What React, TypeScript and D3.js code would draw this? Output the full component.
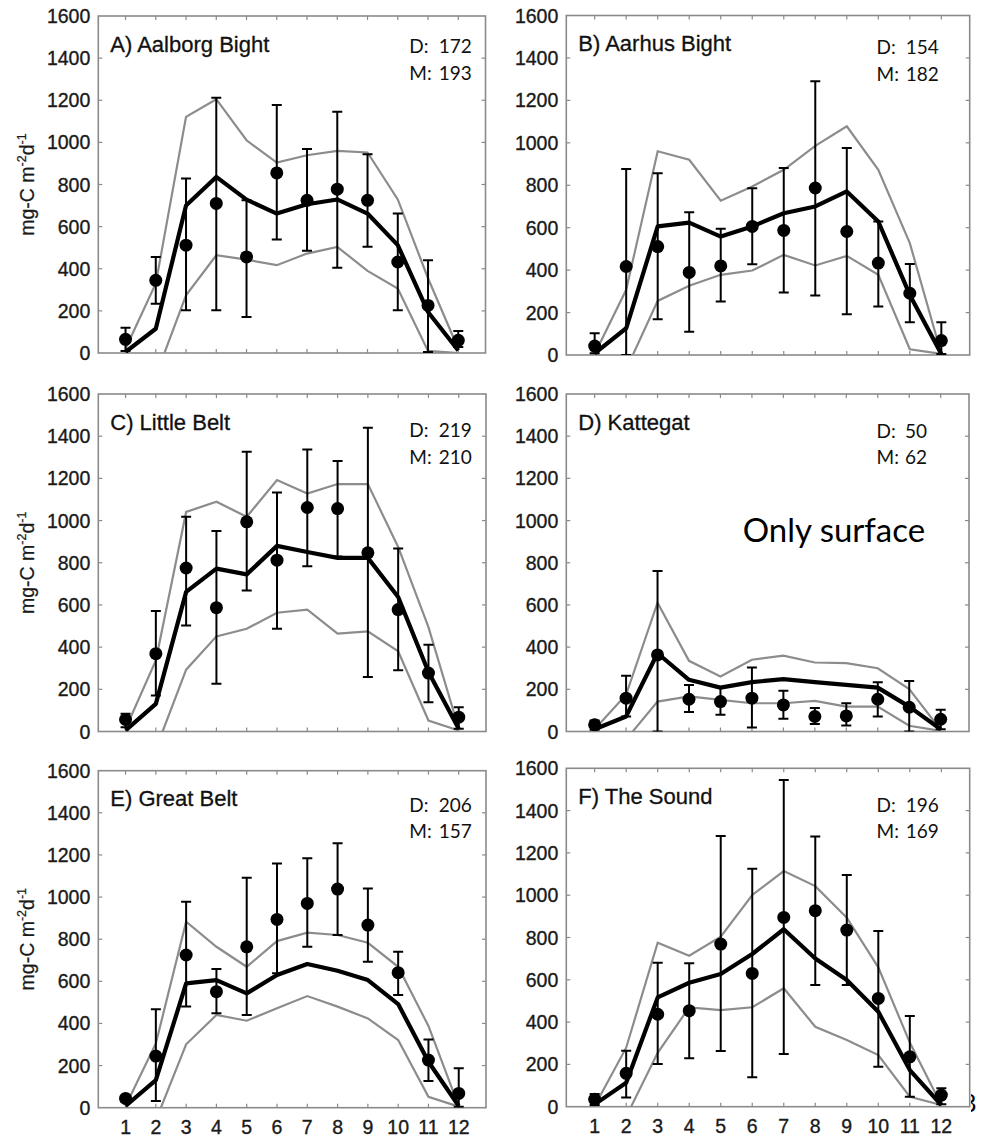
import React from "react";
import * as d3 from "d3";

const months = [1, 2, 3, 4, 5, 6, 7, 8, 9, 10, 11, 12];
const yTicks = [0, 200, 400, 600, 800, 1000, 1200, 1400, 1600];

// A) Aalborg Bight
const aMean = [5, 115, 700, 836, 728, 662, 706, 729, 662, 512, 195, 12];
const aUpper = [20, 330, 1121, 1205, 1010, 904, 939, 960, 952, 729, 355, 20];
const aLower = [0, -110, 274, 464, 443, 417, 472, 504, 390, 306, 10, 0];
const aObs = [65, 345, 512, 710, 456, 855, 725, 778, 725, 432, 226, 60];
const aObsLow = [10, 234, 203, 203, 171, 539, 485, 405, 504, 203, 5, 28];
const aObsHigh = [120, 456, 828, 1212, 725, 1177, 968, 1145, 944, 662, 440, 105];

// B) Aarhus Bight
const bMean = [8, 126, 606, 624, 558, 606, 668, 700, 771, 629, 283, 5];
const bUpper = [5, 307, 960, 920, 727, 794, 873, 986, 1078, 873, 527, 5];
const bLower = [0, -68, 255, 326, 378, 398, 472, 422, 467, 378, 27, 5];
const bObs = [42, 417, 511, 389, 420, 606, 587, 787, 582, 433, 291, 68];
const bObsLow = [8, 0, 168, 110, 252, 428, 294, 280, 192, 228, 154, 5];
const bObsHigh = [102, 876, 857, 673, 595, 786, 881, 1290, 975, 629, 429, 154];

// C) Little Belt
const cMean = [5, 131, 662, 772, 745, 880, 851, 823, 823, 638, 282, 13];
const cUpper = [13, 337, 1041, 1089, 1018, 1192, 1128, 1173, 1173, 875, 495, 13];
const cLower = [0, -84, 293, 451, 487, 563, 578, 464, 475, 380, 52, 5];
const cObs = [57, 369, 775, 587, 994, 812, 1062, 1057, 847, 578, 277, 68];
const cObsLow = [20, 171, 502, 226, 669, 487, 783, 830, 258, 290, 139, 13];
const cObsHigh = [84, 571, 1018, 951, 1326, 1133, 1337, 1282, 1440, 867, 411, 115];

// D) Kattegat
const dMean = [11, 71, 371, 245, 208, 234, 248, 234, 221, 208, 118, 11];
const dUpper = [11, 174, 611, 335, 261, 340, 360, 327, 324, 300, 201, 8];
const dLower = [0, -38, 142, 166, 150, 134, 134, 145, 118, 118, 27, 3];
const dObs = [32, 158, 363, 153, 142, 158, 126, 71, 74, 153, 115, 58];
const dObsLow = [8, 71, 0, 92, 79, 19, 60, 36, 28, 71, 0, 11];
const dObsHigh = [52, 264, 761, 221, 210, 303, 193, 111, 134, 234, 240, 103];

// E) Great Belt
const eMean = [8, 131, 590, 606, 543, 630, 682, 650, 606, 492, 218, 8];
const eUpper = [8, 305, 883, 764, 669, 791, 831, 820, 783, 669, 388, 8];
const eLower = [0, -60, 301, 440, 413, 472, 530, 480, 424, 321, 52, 5];
const eObs = [44, 245, 725, 551, 764, 894, 970, 1038, 867, 641, 226, 68];
const eObsLow = [28, 32, 480, 448, 440, 638, 764, 820, 693, 535, 127, 5];
const eObsHigh = [55, 467, 978, 658, 1092, 1160, 1184, 1255, 1041, 741, 324, 187];

// F) The Sound
const fMean = [11, 113, 517, 586, 627, 722, 839, 701, 599, 449, 173, 8];
const fUpper = [3, 279, 775, 714, 804, 1001, 1114, 1043, 894, 659, 303, 8];
const fLower = [0, -47, 255, 470, 457, 470, 560, 378, 315, 244, 47, 8];
const fObs = [35, 158, 437, 454, 769, 630, 895, 927, 835, 512, 236, 55];
const fObsLow = [8, 43, 202, 229, 263, 139, 249, 575, 575, 189, 47, 11];
const fObsHigh = [60, 265, 681, 678, 1280, 1125, 1545, 1277, 1095, 831, 429, 87];

const titles = ["A) Aalborg Bight", "B) Aarhus Bight", "C) Little Belt", "D) Kattegat", "E) Great Belt", "F) The Sound"];
const dValues = ["172", "154", "219", "50", "206", "196"];
const mValues = ["193", "182", "210", "62", "157", "169"];

const panels = [
  { key: "a", mean: aMean, upper: aUpper, lower: aLower, obs: aObs, lo: aObsLow, hi: aObsHigh,
    box: [98.3, 16, 485.5, 353], yLabel: true, xLabels: false, ann: { lx: 409.3, rx: 471.7, dy: 37.3, my: 64 } },
  { key: "b", mean: bMean, upper: bUpper, lower: bLower, obs: bObs, lo: bObsLow, hi: bObsHigh,
    box: [566.3, 15.5, 969.7, 355], yLabel: false, xLabels: false, ann: { lx: 876.5, rx: 938.7, dy: 38, my: 65 } },
  { key: "c", mean: cMean, upper: cUpper, lower: cLower, obs: cObs, lo: cObsLow, hi: cObsHigh,
    box: [98.3, 394, 486, 731.5], yLabel: true, xLabels: false, ann: { lx: 409.3, rx: 471.7, dy: 43, my: 69.5 } },
  { key: "d", mean: dMean, upper: dUpper, lower: dLower, obs: dObs, lo: dObsLow, hi: dObsHigh,
    box: [566.3, 394, 969, 731.5], yLabel: false, xLabels: false, ann: { lx: 876.5, rx: 927, dy: 44, my: 70.3 } },
  { key: "e", mean: eMean, upper: eUpper, lower: eLower, obs: eObs, lo: eObsLow, hi: eObsHigh,
    box: [98.3, 770.7, 486, 1107.7], yLabel: true, xLabels: true, ann: { lx: 409.3, rx: 471.7, dy: 41, my: 67.6 } },
  { key: "f", mean: fMean, upper: fUpper, lower: fLower, obs: fObs, lo: fObsLow, hi: fObsHigh,
    box: [566.3, 768.3, 969.7, 1106.7], yLabel: false, xLabels: true, ann: { lx: 876.5, rx: 938.7, dy: 43.4, my: 70 } },
];

const ARIAL = "'Liberation Sans', Arial, Helvetica, sans-serif";
const CALIBRI = "Lato, 'Open Sans', sans-serif";
const TXT = "#1a1a1a";

function Panel({ p, i }: { p: any; i: number }) {
  const [x0, y0, x1, y1] = p.box;
  const x = d3.scaleLinear().domain([0.1, 12.9]).range([x0, x1]);
  const y = d3.scaleLinear().domain([0, 1600]).range([y1, y0]);
  const line = d3
    .line<number>()
    .x((_, j) => x(months[j]))
    .y((v) => y(v));
  const clipId = `clip-${p.key}`;
  const tickLen = 4;
  return (
    <g>
      <defs>
        <clipPath id={clipId}>
          <rect x={x0} y={y0} width={x1 - x0} height={y1 - y0} />
        </clipPath>
      </defs>
      <rect x={x0} y={y0} width={x1 - x0} height={y1 - y0} fill="#fff" stroke="#8a8a8a" strokeWidth={1.6} />
      {yTicks.slice(1, -1).map((t) => (
        <g key={`yt${t}`} stroke="#8a8a8a" strokeWidth={1.2}>
          <line x1={x0} x2={x0 + tickLen} y1={y(t)} y2={y(t)} />
          <line x1={x1} x2={x1 - tickLen} y1={y(t)} y2={y(t)} />
        </g>
      ))}
      {months.map((m) => (
        <g key={`xt${m}`} stroke="#8a8a8a" strokeWidth={1.2}>
          <line x1={x(m)} x2={x(m)} y1={y0} y2={y0 + tickLen} />
          <line x1={x(m)} x2={x(m)} y1={y1} y2={y1 - tickLen} />
        </g>
      ))}
      {yTicks.map((t) => (
        <text key={`yl${t}`} x={x0 - 8} y={y(t)} dy="0.36em" textAnchor="end" fontFamily={ARIAL} fontSize={19.5}
          fill={TXT} stroke={TXT} strokeWidth={0.35}>
          {t}
        </text>
      ))}
      {p.xLabels &&
        months.map((m) => (
          <text key={`xl${m}`} x={x(m)} y={y1 + 26} textAnchor="middle" fontFamily={ARIAL} fontSize={19.5}
            fill={TXT} stroke={TXT} strokeWidth={0.35}>
            {m}
          </text>
        ))}
      {p.yLabel && (
        <text
          transform={`translate(${34},${(y0 + y1) / 2}) rotate(-90)`}
          textAnchor="middle"
          fontFamily={ARIAL}
          fontSize={19.5}
          fill={TXT}
          stroke={TXT}
          strokeWidth={0.25}
        >
          mg-C m<tspan fontSize={12.5} dy={-8}>-2</tspan>
          <tspan dy={8}>d</tspan>
          <tspan fontSize={12.5} dy={-8}>-1</tspan>
        </text>
      )}
      <g clipPath={`url(#${clipId})`}>
        <path d={line(p.upper) || ""} fill="none" stroke="#8c8c8c" strokeWidth={2.2} />
        <path d={line(p.lower) || ""} fill="none" stroke="#8c8c8c" strokeWidth={2.2} />
        <path d={line(p.mean) || ""} fill="none" stroke="#000" strokeWidth={4.2} strokeLinejoin="round" />
        {months.map((m, j) => (
          <g key={`eb${m}`} stroke="#000" strokeWidth={2}>
            <line x1={x(m)} x2={x(m)} y1={y(p.lo[j])} y2={y(p.hi[j])} />
            <line x1={x(m) - 5} x2={x(m) + 5} y1={y(p.lo[j])} y2={y(p.lo[j])} />
            <line x1={x(m) - 5} x2={x(m) + 5} y1={y(p.hi[j])} y2={y(p.hi[j])} />
          </g>
        ))}
        {months.map((m, j) => (
          <circle key={`pt${m}`} cx={x(m)} cy={y(p.obs[j])} r={6.5} fill="#000" />
        ))}
      </g>
      <text x={x0 + 12} y={y0 + 35.5} fontFamily={ARIAL} fontSize={22} fill="#111" stroke="#111" strokeWidth={0.3}>
        {titles[i]}
      </text>
      <text x={p.ann.lx} y={y0 + p.ann.dy} fontFamily={CALIBRI} fontSize={19} fill="#111">D:</text>
      <text x={p.ann.rx} y={y0 + p.ann.dy} textAnchor="end" fontFamily={CALIBRI} fontSize={19} fill="#111">
        {dValues[i]}
      </text>
      <text x={p.ann.lx} y={y0 + p.ann.my} fontFamily={CALIBRI} fontSize={19} fill="#111">M:</text>
      <text x={p.ann.rx} y={y0 + p.ann.my} textAnchor="end" fontFamily={CALIBRI} fontSize={19} fill="#111">
        {mValues[i]}
      </text>
    </g>
  );
}

export default function App() {
  return (
    <svg
      width={994}
      height={1138}
      style={{ position: "absolute", left: 0, top: 0, background: "#fff" }}
    >
      <rect x={0} y={0} width={994} height={1138} fill="#fff" />
      <defs>
        <clipPath id="pageNum">
          <rect x={971} y={1080} width={30} height={50} />
        </clipPath>
      </defs>
      <text x={962} y={1112} fontFamily={CALIBRI} fontSize={25} fill="#000" clipPath="url(#pageNum)">
        8
      </text>
      {panels.map((p, i) => (
        <Panel key={p.key} p={p} i={i} />
      ))}
      <text x={742.7} y={541.7} fontFamily={CALIBRI} fontSize={33} fill="#000">
        Only surface
      </text>
    </svg>
  );
}
